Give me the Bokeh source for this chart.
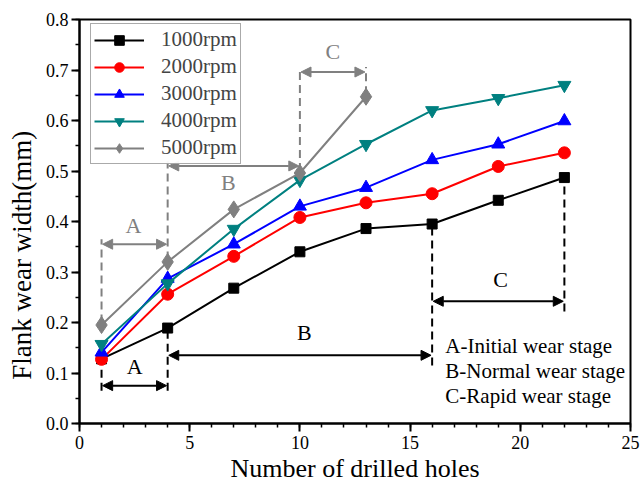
from bokeh.plotting import figure
from bokeh.models import (Range1d, FixedTicker, NumeralTickFormatter, Arrow, NormalHead,
                          Legend, LegendItem, Label)
from bokeh.core.properties import value
from bokeh.embed import file_html
from bokeh.resources import INLINE

holes = [1, 4, 7, 10, 13, 16, 19, 22]
rpm1000 = [0.128, 0.189, 0.268, 0.340, 0.386, 0.395, 0.442, 0.487]
rpm2000 = [0.127, 0.256, 0.331, 0.408, 0.437, 0.455, 0.509, 0.536]
rpm3000 = [0.141, 0.287, 0.355, 0.430, 0.467, 0.522, 0.553, 0.599]
rpm4000 = [0.157, 0.277, 0.385, 0.482, 0.553, 0.620, 0.644, 0.670]
holes5000 = [1, 4, 7, 10, 13]
rpm5000 = [0.195, 0.320, 0.424, 0.496, 0.647]

labels = ["1000rpm", "2000rpm", "3000rpm", "4000rpm", "5000rpm"]
colors = ["black", "#FF0000", "#0000FF", "#008080", "#808080"]
markers = ["square", "circle", "triangle", "inverted_triangle", "diamond"]
sizes = [10, 12, 13, 13, 17]

# stage annotations (black: 1000rpm; gray: 5000rpm)
black_vlines_x = [1, 4, 16, 22]
black_vlines_y0 = [0.065, 0.065, 0.115, 0.222]
black_vlines_y1 = [0.122, 0.185, 0.39, 0.482]
black_arrows = [(1, 4, 0.075), (4, 16, 0.135), (16, 22, 0.242)]
black_text = [("A", 2.5, 0.112), ("B", 10.2, 0.18), ("C", 19.1, 0.285)]

gray_vlines_x = [1, 4, 10, 13]
gray_vlines_y0 = [0.2, 0.325, 0.5, 0.652]
gray_vlines_y1 = [0.365, 0.52, 0.705, 0.706]
gray_arrows = [(1, 4, 0.355), (4, 10, 0.51), (10, 13, 0.696)]
gray_text = [("A", 2.45, 0.393), ("B", 6.75, 0.478), ("C", 11.5, 0.736)]

stage_notes = ["A-Initial wear stage", "B-Normal wear stage", "C-Rapid wear stage"]
notes_y = [0.153, 0.104, 0.055]

x_title = "Number of drilled holes"
y_title = "Flank wear width(mm)"

FONT = "Liberation Serif"

p = figure(width=644, height=486, output_backend="svg", toolbar_location=None,
           x_range=Range1d(0, 25), y_range=Range1d(0, 0.8),
           min_border_left=79, min_border_right=14, min_border_top=19, min_border_bottom=63)
p.grid.visible = False
p.outline_line_color = "black"
p.outline_line_width = 2
p.background_fill_color = "white"

for ax in (p.xaxis[0], p.yaxis[0]):
    ax.axis_line_width = 2
    ax.major_tick_line_width = 2
    ax.minor_tick_line_width = 1.5
    ax.major_tick_out = 8
    ax.major_tick_in = 0
    ax.minor_tick_out = 4
    ax.minor_tick_in = 0
    ax.major_label_text_font = FONT
    ax.major_label_text_font_size = "18px"
    ax.major_label_text_color = "black"
    ax.axis_label_text_font = FONT
    ax.axis_label_text_font_style = "normal"
    ax.axis_label_text_color = "black"

p.xaxis.axis_label_text_font_size = "26px"
p.yaxis.axis_label_text_font_size = "27px"
p.xaxis.ticker = FixedTicker(ticks=[0, 5, 10, 15, 20, 25], minor_ticks=list(range(0, 26)))
p.yaxis.ticker = FixedTicker(ticks=[i / 10 for i in range(9)], minor_ticks=[i / 20 for i in range(17)])
p.yaxis.formatter = NumeralTickFormatter(format="0.0")
p.xaxis.axis_label = x_title
# trailing no-break spaces shift the centred title toward the bottom, as in the reference
p.yaxis.axis_label = y_title + "\u00a0" * 10
p.xaxis.major_label_standoff = 4
p.yaxis.major_label_standoff = 3
p.xaxis.axis_label_standoff = 2
p.yaxis.axis_label_standoff = 6

# annotations
p.segment(x0=black_vlines_x, y0=black_vlines_y0, x1=black_vlines_x, y1=black_vlines_y1,
          line_color="black", line_width=2, line_dash="8 5")
p.segment(x0=gray_vlines_x, y0=gray_vlines_y0, x1=gray_vlines_x, y1=gray_vlines_y1,
          line_color="#808080", line_width=2, line_dash="8 5")

for (xa, xb, ya) in black_arrows:
    p.add_layout(Arrow(x_start=xa + 0.05, y_start=ya, x_end=xb - 0.05, y_end=ya, line_width=2, line_color="black",
                       start=NormalHead(size=10, fill_color="black", line_color="black"),
                       end=NormalHead(size=10, fill_color="black", line_color="black")))
for (xa, xb, ya) in gray_arrows:
    p.add_layout(Arrow(x_start=xa + 0.05, y_start=ya, x_end=xb - 0.05, y_end=ya, line_width=2, line_color="#808080",
                       start=NormalHead(size=10, fill_color="#808080", line_color="#808080"),
                       end=NormalHead(size=10, fill_color="#808080", line_color="#808080")))
for (t, xt, yt) in black_text:
    p.add_layout(Label(x=xt, y=yt, text=t, text_font=FONT, text_font_size="22px", text_color="black",
                       text_align="center", text_baseline="middle"))
for (t, xt, yt) in gray_text:
    p.add_layout(Label(x=xt, y=yt, text=t, text_font=FONT, text_font_size="22px", text_color="#808080",
                       text_align="center", text_baseline="middle"))
p.text(x=[16.6] * 3, y=notes_y, text=stage_notes, text_font=value(FONT), text_font_size="21px",
       text_color="black", text_align="left", text_baseline="middle")

series = [(holes, rpm1000), (holes, rpm2000), (holes, rpm3000), (holes, rpm4000), (holes5000, rpm5000)]
items = []
for (xs, ys), lab, c, m, s in zip(series, labels, colors, markers, sizes):
    r1 = p.line(xs, ys, line_color=c, line_width=2)
    r2 = p.scatter(xs, ys, marker=m, size=s, fill_color=c, line_color=c)
    items.append(LegendItem(label=lab, renderers=[r1, r2]))

legend = Legend(items=items, location=(11, 259), label_text_font=FONT, label_text_font_size="21px",
                glyph_width=50, glyph_height=24, label_height=24, spacing=2, padding=3, margin=0,
                label_standoff=17, border_line_color="#555555", border_line_width=1)
p.add_layout(legend, "center")

open("out.html", "w").write(file_html(p, INLINE))
